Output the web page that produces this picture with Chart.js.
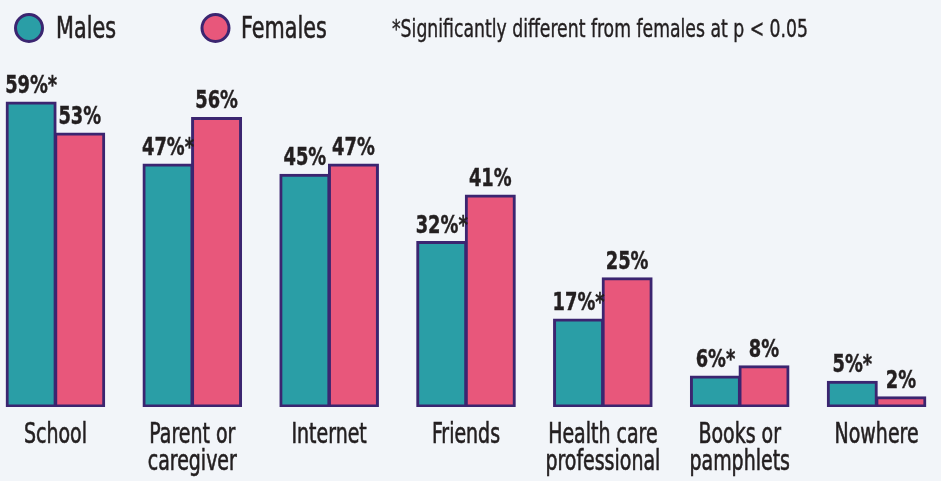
<!DOCTYPE html>
<html>
<head>
<meta charset="utf-8">
<script src="https://cdn.jsdelivr.net/npm/chart.js@4"></script>
<style>
  html, body { margin: 0; padding: 0; background: #f2f5f9; overflow: hidden; }
  body { width: 941px; height: 481px; position: relative; }
  #wrap { position: absolute; left: -13px; top: 0; width: 958px; height: 481px; }
</style>
</head>
<body>
<div id="wrap"><canvas id="c" width="958" height="481"></canvas></div>
<script>
const categories = [["School"], ["Parent or", "caregiver"], ["Internet"], ["Friends"], ["Health care", "professional"], ["Books or", "pamphlets"], ["Nowhere"]];
const seriesNames = ["Males", "Females"];
const males = [59, 47, 45, 32, 17, 6, 5];
const females = [53, 56, 47, 41, 25, 8, 2];
const maleSignificant = [true, true, false, true, true, true, true];
const footnote = "*Significantly different from females at p < 0.05";

const FONT = '"DejaVu Sans Condensed", "DejaVu Sans", sans-serif';
const OFFSET = 13;
const TEXT = '#231f20';
const TEAL = '#2a9ea6', PINK = '#e8577b', EDGE = '#3b2570';

function scaledText(ctx, text, x, y, font, sx, align, stroke) {
  ctx.save();
  ctx.font = font;
  ctx.translate(x, y);
  ctx.scale(sx, 1);
  ctx.textAlign = align || 'center';
  ctx.textBaseline = 'alphabetic';
  ctx.fillText(text, 0, 0);
  if (stroke) {
    ctx.lineWidth = stroke;
    ctx.strokeStyle = ctx.fillStyle;
    ctx.strokeText(text, 0, 0);
  }
  ctx.restore();
}
function fitScale(ctx, font, ref, target) {
  ctx.save(); ctx.font = font; const w = ctx.measureText(ref).width; ctx.restore();
  return target / w;
}

const textPlugin = {
  id: 'texts',
  afterDraw(chart) {
    const ctx = chart.ctx;
    ctx.save();
    ctx.fillStyle = TEXT;
    // bar value labels
    const lblFont = 'bold 24px ' + FONT;
    const lsx = fitScale(ctx, lblFont, '59%*', 52);
    chart.data.datasets.forEach((ds, di) => {
      const meta = chart.getDatasetMeta(di);
      meta.data.forEach((el, i) => {
        let t = ds.data[i] + '%';
        if (di === 0 && maleSignificant[i]) t += '*';
        scaledText(ctx, t, el.x, el.y - 9, lblFont, lsx, 'center', 0.4);
      });
    });
    // category labels
    const xFont = '28px ' + FONT;
    const xsx = fitScale(ctx, xFont, 'School', 63);
    const xs = chart.scales.x;
    categories.forEach((lines, i) => {
      const cx = xs.getPixelForTick(i);
      lines.forEach((ln, k) => scaledText(ctx, ln, cx, 443 + k * 27, xFont, xsx, 'center', 0.6));
    });
    // legend
    const legFont = '31px ' + FONT;
    const gsx = fitScale(ctx, legFont, 'Males', 60);
    const legItems = [{ cx: 29, tx: 56, color: TEAL }, { cx: 215.5, tx: 241, color: PINK }];
    legItems.forEach((it, k) => {
      ctx.beginPath();
      ctx.arc(it.cx + OFFSET, 28, 13.5, 0, Math.PI * 2);
      ctx.fillStyle = it.color;
      ctx.fill();
      ctx.lineWidth = 3;
      ctx.strokeStyle = EDGE;
      ctx.stroke();
      ctx.fillStyle = TEXT;
      scaledText(ctx, seriesNames[k], it.tx + OFFSET, 38, legFont, gsx, 'left', 0.6);
    });
    // footnote
    const fnFont = '24px ' + FONT;
    const fsx = fitScale(ctx, fnFont, footnote, 416);
    scaledText(ctx, footnote, 392 + OFFSET, 37, fnFont, fsx, 'left', 0.4);
    ctx.restore();
  }
};

new Chart(document.getElementById('c'), {
  type: 'bar',
  data: {
    labels: categories,
    datasets: [
      { label: seriesNames[0], data: males, backgroundColor: TEAL, borderColor: EDGE, borderWidth: 3, borderSkipped: false, inflateAmount: 0.5 },
      { label: seriesNames[1], data: females, backgroundColor: PINK, borderColor: EDGE, borderWidth: 3, borderSkipped: false, inflateAmount: 0.5 }
    ]
  },
  options: {
    responsive: false,
    animation: false,
    layout: { padding: { top: 45, bottom: 0, left: 0, right: 0 } },
    datasets: { bar: { categoryPercentage: 0.71, barPercentage: 1.03 } },
    plugins: { legend: { display: false }, tooltip: { enabled: false } },
    scales: {
      y: { display: false, min: 0, max: 70 },
      x: {
        grid: { display: false },
        border: { display: false },
        ticks: { display: false },
        afterFit(scale) { scale.height = 74; }
      }
    }
  },
  plugins: [textPlugin]
});
</script>
</body>
</html>
